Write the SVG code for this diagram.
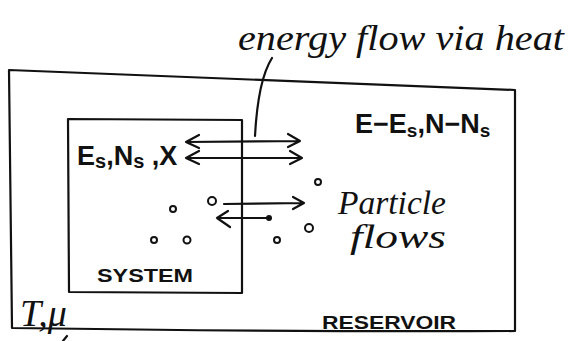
<svg xmlns="http://www.w3.org/2000/svg" width="570" height="341" viewBox="0 0 570 341">
<style>
.ln{fill:none;stroke:#111;stroke-width:2.2;stroke-linecap:round;stroke-linejoin:round}
.p{fill:none;stroke:#111;stroke-width:2}
.t{font-family:"Liberation Sans",Arial,sans-serif;fill:#111;font-weight:bold}
.hand{font-family:"Liberation Serif","Times New Roman",serif;font-style:italic;fill:#111}
</style>
<rect width="570" height="341" fill="#fff"/>
<g id="reservoir">
<path class="ln" d="M9,70 Q200,78 515,90 L515,331 Q300,332 12,328 Z"/>
<text class="t" x="322" y="329" font-size="19" textLength="134" lengthAdjust="spacingAndGlyphs">RESERVOIR</text>
<text class="hand" x="20" y="326" font-size="38">T,μ</text>
<text class="t" x="355" y="133" font-size="27">E−E<tspan font-size="19" dy="4">s</tspan><tspan dy="-4">,N−N</tspan><tspan font-size="19" dy="4">s</tspan></text>
</g>
<g id="system">
<path class="ln" d="M68,119 L242,120 L242,293 L69,292 Z"/>
<text class="t" x="77" y="165" font-size="27">E<tspan font-size="20" dy="3">s</tspan><tspan dy="-3">,N</tspan><tspan font-size="20" dy="3">s</tspan><tspan dy="-3"> ,X</tspan></text>
<text class="t" x="97" y="282" font-size="19" textLength="96" lengthAdjust="spacingAndGlyphs">SYSTEM</text>
</g>
<g id="label-heat">
<text class="hand" x="238" y="50" font-size="36" textLength="326" lengthAdjust="spacingAndGlyphs">energy flow via heat</text>
</g>
<g id="label-particles">
<text class="hand" x="338" y="214" font-size="33" textLength="108" lengthAdjust="spacingAndGlyphs">Particle</text>
<text class="hand" x="350" y="248" font-size="33" textLength="96" lengthAdjust="spacingAndGlyphs">flows</text>
</g>
<g id="particles">
<circle class="p" cx="173" cy="209" r="3"/>
<circle class="p" cx="212" cy="201" r="4"/>
<circle class="p" cx="154" cy="240" r="3"/>
<circle class="p" cx="187" cy="240" r="3.5"/>
<circle class="p" cx="318" cy="182" r="3"/>
<circle class="p" cx="277" cy="240" r="3"/>
<circle class="p" cx="309" cy="228" r="4"/>
<circle cx="269" cy="218" r="3" fill="#111"/>
</g>
<g id="connectors">
<path class="ln" d="M255,136 Q258,80 272,58"/>
<path class="ln" d="M186,142 L300,141 M199,135 L186,142 L199,148 M288,134 L300,141 L288,147"/>
<path class="ln" d="M186,158 L302,158 M199,151 L186,158 L199,164 M290,151 L302,158 L290,164"/>
<path class="ln" d="M224,204 L304,203 M293,197 L304,203 L293,209"/>
<path class="ln" d="M269,218 L217,218 M228,211 L217,218 L230,227"/>
<path class="ln" d="M67,336 L63,341"/>
</g>
</svg>
